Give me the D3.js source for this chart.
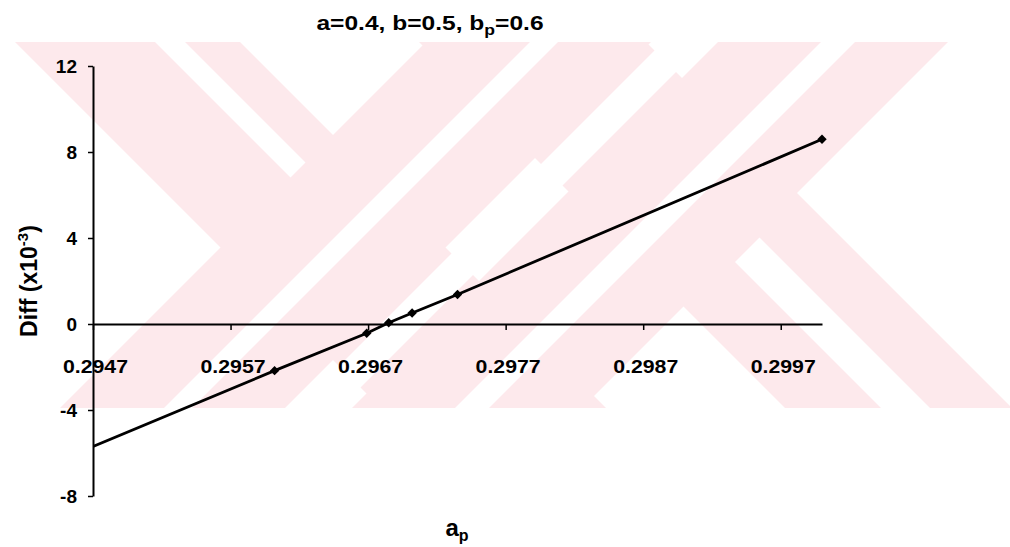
<!DOCTYPE html>
<html>
<head>
<meta charset="utf-8">
<script src="https://cdn.jsdelivr.net/npm/d3@7"></script>
<style>
  html, body { margin: 0; padding: 0; background: #fff; }
  svg { display: block; }
  text { font-family: "Liberation Sans", Arial, sans-serif; font-weight: bold; fill: #000; }
</style>
</head>
<body>
<div id="chart"></div>
<script>
// data (Diff in units of 1e-3); first point lies left of the axis and is clipped
const apValues = [0.2945, 0.29602, 0.29669, 0.29685, 0.29702, 0.29735, 0.3000];
const diffValues = [-6.23, -2.17, -0.43, 0.06, 0.51, 1.37, 8.59];
const xTicks = [0.2947, 0.2957, 0.2967, 0.2977, 0.2987, 0.2997];
const yTicks = [-8, -4, 0, 4, 8, 12];

const width = 1010, height = 547;
const plot = { left: 93, right: 822, top: 66, bottom: 496 };

const svg = d3.select('#chart').append('svg')
  .attr('width', width)
  .attr('height', height);

// background watermark: pale pink diagonal bands
const wm = { top: 42, bottom: 408 };
const pinkBands = [
  { dir: 'back', a: -27, b: 198 },   // left X "\"
  { dir: 'fwd', a: 468, b: 693 },    // left X "/"
  { dir: 'back', a: 377, b: 604 },   // right X "\"
  { dir: 'fwd', a: 760, b: 990 }     // right X "/"
];
const whiteStripes = [
  { dir: 'fwd', a: 572, b: 600 },
  { dir: 'fwd', a: 705, b: 748 },
  { dir: 'fwd', a: 863, b: 897 }
];

function bandPoints(bd) {
  const t = wm.top, u = wm.bottom;
  if (bd.dir === 'back') return [[bd.a + t, t], [bd.b + t, t], [bd.b + u, u], [bd.a + u, u]];
  return [[bd.a - t, t], [bd.b - t, t], [bd.b - u, u], [bd.a - u, u]];
}

const defs = svg.append('defs');
defs.append('clipPath').attr('id', 'wm-clip')
  .append('rect').attr('x', 0).attr('y', wm.top).attr('width', width).attr('height', wm.bottom - wm.top);
defs.append('clipPath').attr('id', 'plot-clip')
  .append('rect').attr('x', plot.left).attr('y', plot.top)
  .attr('width', plot.right - plot.left + 6).attr('height', plot.bottom - plot.top);

const wmG = svg.append('g').attr('clip-path', 'url(#wm-clip)');
wmG.selectAll('polygon.pink').data(pinkBands).join('polygon')
  .attr('class', 'pink')
  .attr('points', d => bandPoints(d).join(' '))
  .attr('fill', '#fde9ec');
wmG.selectAll('polygon.gap').data(whiteStripes).join('polygon')
  .attr('class', 'gap')
  .attr('points', d => bandPoints(d).join(' '))
  .attr('fill', '#fff');
// short stripes that end where they meet the crossing band
wmG.append('polygon')
  .attr('points', [[155, 42], [185, 42], [305.5, 162.5], [290.5, 177.5]].join(' '))
  .attr('fill', '#fff');
wmG.append('polygon')
  .attr('points', [[735, 262], [759.5, 237.5], [930, 408], [881, 408]].join(' '))
  .attr('fill', '#fff');

// scales
const x = d3.scaleLinear().domain([0.2947, 0.3000]).range([plot.left, plot.right]);
const y = d3.scaleLinear().domain([-8, 12]).range([plot.bottom, plot.top]);

function styleTickText(sel, size) {
  sel.attr('fill', '#000')
    .style('font-size', size)
    .style('font-family', '"Liberation Sans", Arial, sans-serif')
    .style('font-weight', 'bold');
}

// x axis along Diff = 0
const xAxis = svg.append('g')
  .attr('transform', `translate(0, ${y(0)})`)
  .call(d3.axisBottom(x).tickValues(xTicks).tickFormat(d3.format('.4f')).tickSize(6).tickPadding(30).tickSizeOuter(0));
xAxis.select('.domain').attr('stroke', '#000').attr('stroke-width', 2);
xAxis.selectAll('.tick line').attr('stroke', '#000').attr('stroke-width', 1.5);
xAxis.selectAll('.tick text')
  .call(styleTickText, '19px')
  .attr('transform', 'translate(2,0) scale(1.12,1)');

// y axis
const yAxis = svg.append('g')
  .attr('transform', `translate(${plot.left}, 0)`)
  .call(d3.axisLeft(y).tickValues(yTicks).tickFormat(d => String(d)).tickSize(5).tickPadding(11).tickSizeOuter(0));
yAxis.select('.domain').attr('stroke', '#000').attr('stroke-width', 2);
yAxis.selectAll('.tick line').attr('stroke', '#000').attr('stroke-width', 1.5);
yAxis.selectAll('.tick text').call(styleTickText, '19px');

// series
const pts = apValues.map((v, i) => [v, diffValues[i]]);
const seriesG = svg.append('g').attr('clip-path', 'url(#plot-clip)');
seriesG.append('path')
  .datum(pts)
  .attr('fill', 'none')
  .attr('stroke', '#000')
  .attr('stroke-width', 2.8)
  .attr('stroke-linejoin', 'round')
  .attr('d', d3.line().x(d => x(d[0])).y(d => y(d[1])));
seriesG.selectAll('path.marker').data(pts).join('path')
  .attr('class', 'marker')
  .attr('transform', d => `translate(${x(d[0])}, ${y(d[1])}) rotate(45)`)
  .attr('d', d3.symbol().type(d3.symbolSquare).size(44))
  .attr('fill', '#000');

// title
const title = svg.append('text')
  .attr('transform', 'translate(430, 30) scale(1.17, 1)')
  .attr('text-anchor', 'middle')
  .style('font-size', '21px');
title.append('tspan').text('a=0.4, b=0.5, b');
title.append('tspan').attr('dy', 5).style('font-size', '15px').text('p');
title.append('tspan').attr('dy', -5).text('=0.6');

// y axis title
const yTitle = svg.append('text')
  .attr('transform', 'translate(37, 281) rotate(-90)')
  .attr('text-anchor', 'middle')
  .style('font-size', '23px');
yTitle.append('tspan').text('Diff (x10');
yTitle.append('tspan').attr('dy', -9).style('font-size', '15px').text('-3');
yTitle.append('tspan').attr('dy', 9).text(')');

// x axis title
const xTitle = svg.append('text')
  .attr('x', 457).attr('y', 536)
  .attr('text-anchor', 'middle')
  .style('font-size', '24px');
xTitle.append('tspan').text('a');
xTitle.append('tspan').attr('dy', 5).style('font-size', '16px').text('p');
</script>
</body>
</html>
